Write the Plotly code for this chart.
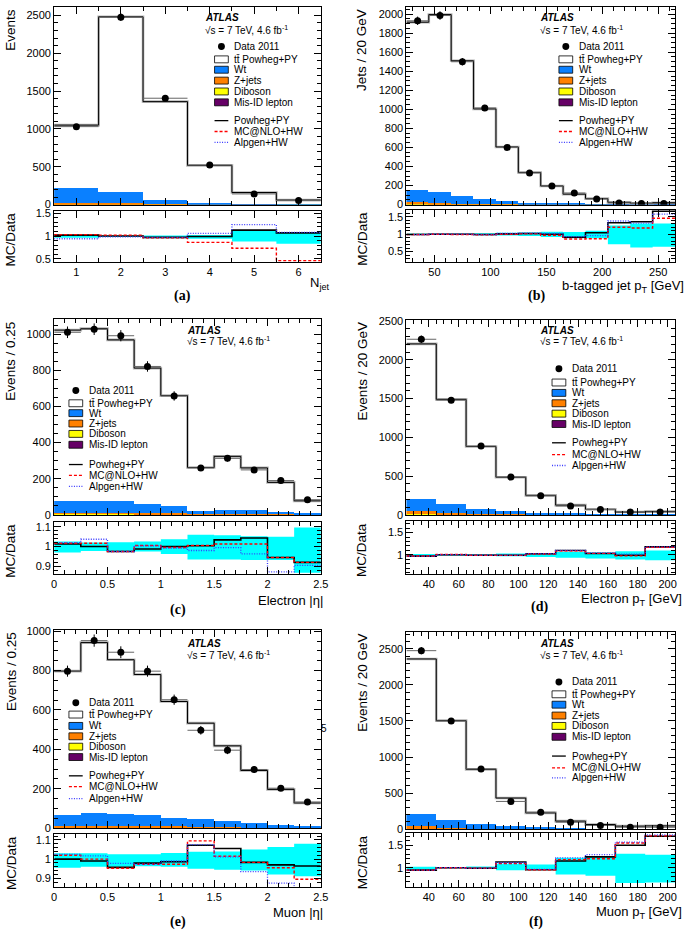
import plotly.graph_objects as go

W, H = 685, 936
FONT = "Liberation Sans, Arial, sans-serif"

# (a) jet multiplicity
njet_edges = [0.5, 1.5, 2.5, 3.5, 4.5, 5.5, 6.5]
njet_data = [1030, 2475, 1405, 522, 141, 56]
njet_err = [32, 50, 37, 23, 12, 8]
njet_mc = [1050, 2480, 1360, 518, 160, 60]
njet_wt = [200, 148, 56, 18, 3, 1]
njet_zjets = [12, 9, 4, 1, 0.3, 0.1]
njet_diboson = [3, 3, 1, 0.5, 0.1, 0.1]
njet_misid = [4, 5, 4, 2, 1, 0.5]
njet_r_powheg = [1.02, 1.0, 0.97, 0.99, 1.13, 1.07]
njet_r_mcnlo = [1.03, 1.02, 0.96, 0.86, 0.73, 0.46]
njet_r_alpgen = [0.94, 0.98, 0.97, 1.06, 1.25, 1.08]
njet_band_lo = [0.96, 0.98, 0.95, 0.94, 0.88, 0.83]
njet_band_hi = [1.03, 1.01, 1.01, 1.02, 1.12, 1.08]

# (b) b-tagged jet pT
bjet_edges = [25, 45, 65, 85, 105, 125, 145, 165, 185, 205, 225, 245, 265]
bjet_data = [1930, 1985, 1500, 1015, 600, 333, 195, 122, 60, 18, 11, 12]
bjet_err = [44, 45, 39, 32, 24, 18, 14, 11, 8, 4, 3, 3]
bjet_mc = [1915, 1995, 1510, 1005, 605, 338, 196, 110, 63, 24, 15, 20]
bjet_wt = [120, 110, 85, 55, 35, 20, 12, 7, 4, 2, 1.5, 1.5]
bjet_zjets = [22, 12, 6, 3, 2, 1, 0.5, 0.3, 0.2, 0.1, 0.1, 0.1]
bjet_diboson = [3, 2, 1.5, 1, 0.5, 0.3, 0.2, 0.1, 0.1, 0.05, 0.05, 0.05]
bjet_misid = [5, 4, 3, 2, 1, 0.5, 0.3, 0.2, 0.1, 0.1, 0.1, 0.1]
bjet_r_powheg = [0.99, 1.0, 1.0, 0.99, 1.01, 1.02, 1.0, 0.91, 1.04, 1.33, 1.36, 1.66]
bjet_r_mcnlo = [0.99, 1.0, 0.99, 0.98, 1.0, 1.01, 0.97, 0.86, 0.87, 1.2, 1.18, 1.46]
bjet_r_alpgen = [0.99, 1.0, 1.0, 0.99, 1.02, 1.03, 1.02, 0.93, 0.96, 1.38, 1.32, 1.58]
bjet_band_lo = [0.98, 0.98, 0.98, 0.97, 0.96, 0.95, 0.92, 0.88, 0.88, 0.71, 0.62, 0.64]
bjet_band_hi = [1.02, 1.02, 1.02, 1.03, 1.04, 1.05, 1.07, 1.06, 1.1, 1.25, 1.31, 1.31]

# (c) electron |eta|
eleta_edges = [0, 0.25, 0.5, 0.75, 1.0, 1.25, 1.5, 1.75, 2.0, 2.25, 2.5]
eleta_data = [1010, 1027, 991, 821, 658, 260, 313, 249, 190, 84]
eleta_err = [32, 32, 31, 29, 26, 16, 18, 16, 14, 9]
eleta_mc = [1022, 1030, 968, 812, 660, 262, 324, 260, 180, 78]
eleta_wt = [65, 65, 63, 48, 41, 18, 22, 20, 13, 4]
eleta_zjets = [8, 8, 8, 7, 6, 3, 3, 3, 2, 1]
eleta_diboson = [1, 1, 1, 1, 1, 0.5, 0.5, 0.5, 0.3, 0.2]
eleta_misid = [3, 3, 3, 2, 2, 1, 1, 1, 1, 0.5]
eleta_r_powheg = [1.013, 1.0, 0.975, 0.988, 1.0, 1.004, 1.034, 1.043, 0.945, 0.92]
eleta_r_mcnlo = [1.017, 1.017, 0.975, 1.005, 0.995, 1.005, 1.013, 1.013, 0.945, 0.92]
eleta_r_alpgen = [1.02, 1.037, 0.975, 1.003, 0.992, 0.98, 0.995, 0.963, 0.872, 0.905]
eleta_band_lo = [0.97, 0.978, 0.978, 0.975, 0.962, 0.935, 0.935, 0.932, 0.932, 0.868]
eleta_band_hi = [1.025, 1.02, 1.022, 1.025, 1.037, 1.06, 1.057, 1.052, 1.05, 1.097]

# (d) electron pT
elpt_edges = [25, 45, 65, 85, 105, 125, 145, 165, 185, 205]
elpt_data = [2265, 1480, 888, 488, 246, 115, 70, 38, 38]
elpt_err = [48, 38, 30, 22, 16, 11, 8, 6, 6]
elpt_mc = [2205, 1490, 882, 486, 252, 126, 72, 37, 45]
elpt_wt = [150, 113, 61, 36, 18, 10, 5, 2.5, 2.5]
elpt_zjets = [38, 14, 7, 4, 2, 1, 0.5, 0.3, 0.3]
elpt_diboson = [2, 1.5, 1, 0.5, 0.3, 0.2, 0.1, 0.1, 0.1]
elpt_misid = [6, 4, 2, 1, 0.5, 0.3, 0.2, 0.1, 0.1]
elpt_r_powheg = [0.974, 1.004, 0.993, 0.993, 1.026, 1.1, 1.033, 0.993, 1.18]
elpt_r_mcnlo = [0.975, 1.01, 0.995, 0.99, 1.02, 1.09, 1.035, 0.98, 1.17]
elpt_r_alpgen = [0.975, 1.006, 0.995, 0.995, 1.03, 1.1, 1.045, 1.02, 1.18]
elpt_band_lo = [0.965, 0.98, 0.98, 0.97, 0.955, 0.935, 0.92, 0.9, 0.88]
elpt_band_hi = [1.02, 1.015, 1.02, 1.03, 1.04, 1.065, 1.055, 1.08, 1.1]

# (e) muon |eta|
mueta_edges = [0, 0.25, 0.5, 0.75, 1.0, 1.25, 1.5, 1.75, 2.0, 2.25, 2.5]
mueta_data = [797, 952, 893, 797, 652, 497, 396, 298, 203, 133]
mueta_err = [28, 31, 30, 28, 26, 22, 20, 17, 14, 12]
mueta_mc = [797, 942, 855, 780, 643, 533, 418, 293, 197, 128]
mueta_wt = [56, 68, 60, 55, 42, 38, 30, 22, 13, 9]
mueta_zjets = [7, 8, 8, 8, 7, 6, 5, 4, 3, 2]
mueta_diboson = [1, 1, 1, 1, 1, 1, 0.5, 0.5, 0.3, 0.3]
mueta_misid = [3, 3, 3, 3, 3, 2, 2, 1, 1, 1]
mueta_r_powheg = [1.0, 0.99, 0.957, 0.979, 0.986, 1.072, 1.055, 0.983, 0.97, 0.964]
mueta_r_mcnlo = [1.02, 1.0, 0.952, 0.973, 0.973, 1.095, 1.015, 0.983, 0.955, 0.895]
mueta_r_alpgen = [1.025, 1.017, 0.978, 0.973, 0.99, 1.075, 1.012, 0.935, 0.875, 0.85]
mueta_band_lo = [0.955, 0.96, 0.96, 0.962, 0.96, 0.95, 0.945, 0.94, 0.92, 0.91]
mueta_band_hi = [1.03, 1.03, 1.025, 1.025, 1.032, 1.038, 1.04, 1.05, 1.063, 1.08]

# (f) muon pT
mupt_edges = [25, 45, 65, 85, 105, 125, 145, 165, 185, 205]
mupt_data = [2475, 1500, 836, 385, 236, 97, 52, 28, 27]
mupt_err = [50, 39, 29, 20, 15, 10, 7, 5, 5]
mupt_mc = [2360, 1505, 830, 432, 226, 112, 65, 42, 46]
mupt_wt = [174, 110, 65, 43, 28, 12.5, 6.7, 3.3, 2.4]
mupt_zjets = [40, 17, 9, 5, 3, 2, 1, 0.5, 0.4]
mupt_diboson = [2, 1.5, 1, 0.5, 0.3, 0.2, 0.1, 0.1, 0.1]
mupt_misid = [6, 4, 2, 1, 0.5, 0.3, 0.2, 0.1, 0.1]
mupt_r_powheg = [0.945, 1.0, 0.988, 1.125, 0.955, 1.148, 1.24, 1.5, 1.7]
mupt_r_mcnlo = [0.945, 1.0, 0.99, 1.09, 0.955, 1.18, 1.2, 1.55, 1.71]
mupt_r_alpgen = [0.945, 1.0, 0.99, 1.11, 0.96, 1.22, 1.29, 1.57, 1.73]
mupt_band_lo = [0.955, 0.985, 0.975, 0.94, 0.95, 0.85, 0.82, 0.66, 0.67]
mupt_band_hi = [1.02, 1.015, 1.025, 1.085, 1.07, 1.22, 1.25, 1.31, 1.29]

bkg_colors = ["#660066", "#FFFF00", "#FF8000", "#0A80FF"]  # misid, diboson, z+jets, wt
leg_labels = ["Data 2011", "tt\u0304 Powheg+PY", "Wt", "Z+jets", "Diboson", "Mis-ID lepton",
              "Powheg+PY", "MC@NLO+HW", "Alpgen+HW"]

# box = left, right, main top, main bottom, ratio top, ratio bottom (pixels)
# xt = (x right end, y) of the x-axis title
panels = [
    dict(tag="(a)", edges=njet_edges, data=njet_data, err=njet_err, mc=njet_mc,
         bkg=[njet_misid, njet_diboson, njet_zjets, njet_wt],
         ratios=[njet_r_powheg, njet_r_mcnlo, njet_r_alpgen], lo=njet_band_lo, hi=njet_band_hi,
         box=(52, 323, 2, 202, 208, 260), yr=[0, 2610], ydt=500, ymn=100,
         rr=[0.43, 1.56], rdt=0.5, rmn=0.1, xr=[0.5, 6.5], xdt=1, xmn=0.5,
         ytitle="Events", xtitle="N<sub>jet</sub>", xt=(333, 282), tag_xy=(182, 294),
         atlas=(203, 13, 25), leg=(215, [42, 55, 65.5, 76.5, 87.5, 98.5, 117, 128, 139])),
    dict(tag="(b)", edges=bjet_edges, data=bjet_data, err=bjet_err, mc=bjet_mc,
         bkg=[bjet_misid, bjet_diboson, bjet_zjets, bjet_wt],
         ratios=[bjet_r_powheg, bjet_r_mcnlo, bjet_r_alpgen], lo=bjet_band_lo, hi=bjet_band_hi,
         box=(410, 683, 2, 202, 207, 260), yr=[0, 2075], ydt=200, ymn=50,
         rr=[0.2, 1.71], rdt=0.5, rmn=0.1, xr=[25, 265], xdt=50, xmn=10,
         ytitle="Jets / 20 GeV", xtitle="b-tagged jet p<sub>T</sub> [GeV]", xt=(694, 285), tag_xy=(542, 294),
         atlas=(544, 13, 25), leg=(565, [42, 55, 65.5, 76.5, 87.5, 98.5, 117, 128, 139])),
    dict(tag="(c)", edges=eleta_edges, data=eleta_data, err=eleta_err, mc=eleta_mc,
         bkg=[eleta_misid, eleta_diboson, eleta_zjets, eleta_wt],
         ratios=[eleta_r_powheg, eleta_r_mcnlo, eleta_r_alpgen], lo=eleta_band_lo, hi=eleta_band_hi,
         box=(52, 323, 318, 516, 523, 576), yr=[0, 1082], ydt=200, ymn=50,
         rr=[0.86, 1.125], rdt=0.1, rmn=0.02, xr=[0, 2.5], xdt=0.5, xmn=0.1,
         ytitle="Events / 0.25", xtitle="Electron |\u03b7|", xt=(327, 603), tag_xy=(178, 612),
         atlas=(185, 329, 340), leg=(67, [390, 403, 413, 423.5, 434, 445, 465, 476, 487])),
    dict(tag="(d)", edges=elpt_edges, data=elpt_data, err=elpt_err, mc=elpt_mc,
         bkg=[elpt_misid, elpt_diboson, elpt_zjets, elpt_wt],
         ratios=[elpt_r_powheg, elpt_r_mcnlo, elpt_r_alpgen], lo=elpt_band_lo, hi=elpt_band_hi,
         box=(410, 683, 319, 516, 522, 576), yr=[0, 2510], ydt=500, ymn=100,
         rr=[0.57, 1.76], rdt=0.5, rmn=0.1, xr=[25, 205], xdt=20, xmn=5,
         ytitle="Events / 20 GeV", xtitle="Electron p<sub>T</sub> [GeV]", xt=(692, 602), tag_xy=(545, 609),
         atlas=(544, 329, 340), leg=(558, [368, 382, 392.5, 403, 413.5, 424, 443, 455, 466])),
    dict(tag="(e)", edges=mueta_edges, data=mueta_data, err=mueta_err, mc=mueta_mc,
         bkg=[mueta_misid, mueta_diboson, mueta_zjets, mueta_wt],
         ratios=[mueta_r_powheg, mueta_r_mcnlo, mueta_r_alpgen], lo=mueta_band_lo, hi=mueta_band_hi,
         box=(52, 323, 632, 833, 839, 892), yr=[0, 1008], ydt=200, ymn=50,
         rr=[0.857, 1.13], rdt=0.1, rmn=0.02, xr=[0, 2.5], xdt=0.5, xmn=0.1,
         ytitle="Events / 0.25", xtitle="Muon |\u03b7|", xt=(327, 918), tag_xy=(178, 928),
         atlas=(185, 646, 658), leg=(67, [706, 718, 729.5, 740, 750.5, 761, 780, 791, 803])),
    dict(tag="(f)", edges=mupt_edges, data=mupt_data, err=mupt_err, mc=mupt_mc,
         bkg=[mupt_misid, mupt_diboson, mupt_zjets, mupt_wt],
         ratios=[mupt_r_powheg, mupt_r_mcnlo, mupt_r_alpgen], lo=mupt_band_lo, hi=mupt_band_hi,
         box=(410, 683, 634, 834, 838, 892), yr=[0, 2740], ydt=500, ymn=100,
         rr=[0.58, 1.77], rdt=0.5, rmn=0.1, xr=[25, 205], xdt=20, xmn=5,
         ytitle="Events / 20 GeV", xtitle="Muon p<sub>T</sub> [GeV]", xt=(692, 918), tag_xy=(542, 928),
         atlas=(544, 646, 658), leg=(558, [685, 697.5, 708, 719, 729.5, 740.5, 760, 772, 782])),
]


def fx(p):
    return p / W


def fy(p):
    return 1 - p / H


def axis(rng, dtick, minor, domain, anchor, labels):
    return dict(domain=domain, range=rng, anchor=anchor, showline=True, linecolor="black",
                linewidth=1, mirror="allticks", ticks="inside", ticklen=7, tickwidth=1,
                tickcolor="black", dtick=dtick, tick0=0,
                minor=dict(dtick=minor, tick0=0, ticks="inside", ticklen=4, tickcolor="black"),
                showgrid=False, zeroline=False, showticklabels=labels, exponentformat="none",
                tickfont=dict(size=11, family=FONT, color="black"))


def note(x, y, text, size=10, **kw):
    d = dict(x=fx(x), y=fy(y), xref="paper", yref="paper", text=text, showarrow=False,
             font=dict(size=size, family=FONT, color="black"), xanchor="left", yanchor="middle")
    d.update(kw)
    return d


fig = go.Figure()
layout = dict(width=W, height=H, margin=dict(l=0, r=0, t=0, b=0), paper_bgcolor="white",
              plot_bgcolor="white", showlegend=False, barmode="stack", bargap=0,
              font=dict(family=FONT, size=11, color="black"))
annotations = []
shapes = []

for i, p in enumerate(panels):
    m, r = 2 * i + 1, 2 * i + 2
    xm, ym = ("x" if m == 1 else f"x{m}"), ("y" if m == 1 else f"y{m}")
    xr_, yr_ = f"x{r}", f"y{r}"
    left, right, mt, mb, rt, rb = p["box"]
    edges = p["edges"]
    centers = [(a + b) / 2 for a, b in zip(edges[:-1], edges[1:])]
    widths = [b - a for a, b in zip(edges[:-1], edges[1:])]

    # stacked backgrounds
    for vals, col in zip(p["bkg"], bkg_colors):
        fig.add_trace(go.Bar(x=centers, y=vals, width=widths, marker_color=col,
                             marker_line_width=0, xaxis=xm, yaxis=ym))
    # total prediction (Powheg+PY) with its band look
    fig.add_trace(go.Scatter(x=edges, y=p["mc"] + [p["mc"][-1]], mode="lines", line_shape="hv",
                             line=dict(color="#b4b4b4", width=2.6), xaxis=xm, yaxis=ym))
    fig.add_trace(go.Scatter(x=edges, y=p["mc"] + [p["mc"][-1]], mode="lines", line_shape="hv",
                             line=dict(color="black", width=1), xaxis=xm, yaxis=ym))
    # data
    fig.add_trace(go.Scatter(x=centers, y=p["data"], mode="markers",
                             marker=dict(color="black", size=7),
                             error_y=dict(type="data", array=p["err"], thickness=1, width=0, color="black"),
                             error_x=dict(type="data", array=[w / 2 for w in widths], thickness=1,
                                          width=0, color="#666666"),
                             xaxis=xm, yaxis=ym))

    # ratio panel
    lo, hi = p["lo"], p["hi"]
    fig.add_trace(go.Scatter(x=edges, y=lo + [lo[-1]], mode="lines", line_shape="hv",
                             line=dict(width=0, color="#00FFFF"), xaxis=xr_, yaxis=yr_))
    fig.add_trace(go.Scatter(x=edges, y=hi + [hi[-1]], mode="lines", line_shape="hv",
                             line=dict(width=0, color="#00FFFF"), fill="tonexty",
                             fillcolor="#00FFFF", xaxis=xr_, yaxis=yr_))
    styles = [dict(color="black", width=1.6), dict(color="#FF0000", width=1.4, dash="3px,2px"),
              dict(color="#3A3AFF", width=1.3, dash="1px,1.5px")]
    for vals, st in zip(p["ratios"], styles):
        fig.add_trace(go.Scatter(x=edges, y=vals + [vals[-1]], mode="lines", line_shape="hv",
                                 line=st, xaxis=xr_, yaxis=yr_))

    xdom = [fx(left), fx(right)]
    layout["xaxis" if m == 1 else f"xaxis{m}"] = axis(p["xr"], p["xdt"], p["xmn"], xdom, ym, False)
    layout[f"yaxis{m}" if m > 1 else "yaxis"] = axis(p["yr"], p["ydt"], p["ymn"], [fy(mb), fy(mt)], xm, True)
    layout[f"xaxis{r}"] = axis(p["xr"], p["xdt"], p["xmn"], xdom, yr_, True)
    layout[f"yaxis{r}"] = axis(p["rr"], p["rdt"], p["rmn"], [fy(rb), fy(rt)], xr_, True)

    # axis titles
    ycx = 8 if left < 200 else 365
    annotations.append(note(ycx, mt, p["ytitle"], size=13.5, textangle=-90, xanchor="center", yanchor="top"))
    annotations.append(note(ycx, rt, "MC/Data", size=13.5, textangle=-90, xanchor="center", yanchor="top"))
    xtx, xty = p["xt"]
    annotations.append(note(xtx, xty, p["xtitle"], size=13, xanchor="right"))
    tx, ty = p["tag_xy"]
    annotations.append(dict(x=fx(tx), y=fy(ty), xref="paper", yref="paper", showarrow=False,
                            text="<b>" + p["tag"] + "</b>", xanchor="center", yanchor="middle",
                            font=dict(size=14, family="Liberation Serif, Times New Roman, serif", color="black")))

    # ATLAS label
    ax_, ay1, ay2 = p["atlas"]
    annotations.append(note(ax_, ay1, "<b><i>ATLAS</i></b>", size=10))
    annotations.append(note(ax_, ay2, "\u221as = 7 TeV, 4.6 fb<sup>-1</sup>", size=10))

    # legend
    sx, rows = p["leg"]
    for k, (lab, yy) in enumerate(zip(leg_labels, rows)):
        annotations.append(note(sx + 18, yy, lab, size=10))
        if k == 0:
            shapes.append(dict(type="circle", xref="paper", yref="paper", x0=fx(sx + 3.5), x1=fx(sx + 10.5),
                               y0=fy(yy + 3.5), y1=fy(yy - 3.5), fillcolor="black", line=dict(width=0)))
        elif k <= 5:
            fill = "white" if k == 1 else bkg_colors[5 - k]
            shapes.append(dict(type="rect", xref="paper", yref="paper", x0=fx(sx), x1=fx(sx + 14),
                               y0=fy(yy + 3.5), y1=fy(yy - 3.5), fillcolor=fill,
                               line=dict(color="black", width=0.8)))
        else:
            st = styles[k - 6]
            shapes.append(dict(type="line", xref="paper", yref="paper", x0=fx(sx), x1=fx(sx + 14),
                               y0=fy(yy), y1=fy(yy), line=dict(color=st["color"], width=1.3,
                                                              dash=st.get("dash", "solid"))))

# stray page number from the source
annotations.append(note(326, 732, "5", size=10, xanchor="center"))

layout["annotations"] = annotations
layout["shapes"] = shapes
fig.update_layout(**layout)
fig.write_html("out.html", config={"displayModeBar": False},
               post_script="document.body.style.margin='0px';document.body.style.overflow='hidden';")
